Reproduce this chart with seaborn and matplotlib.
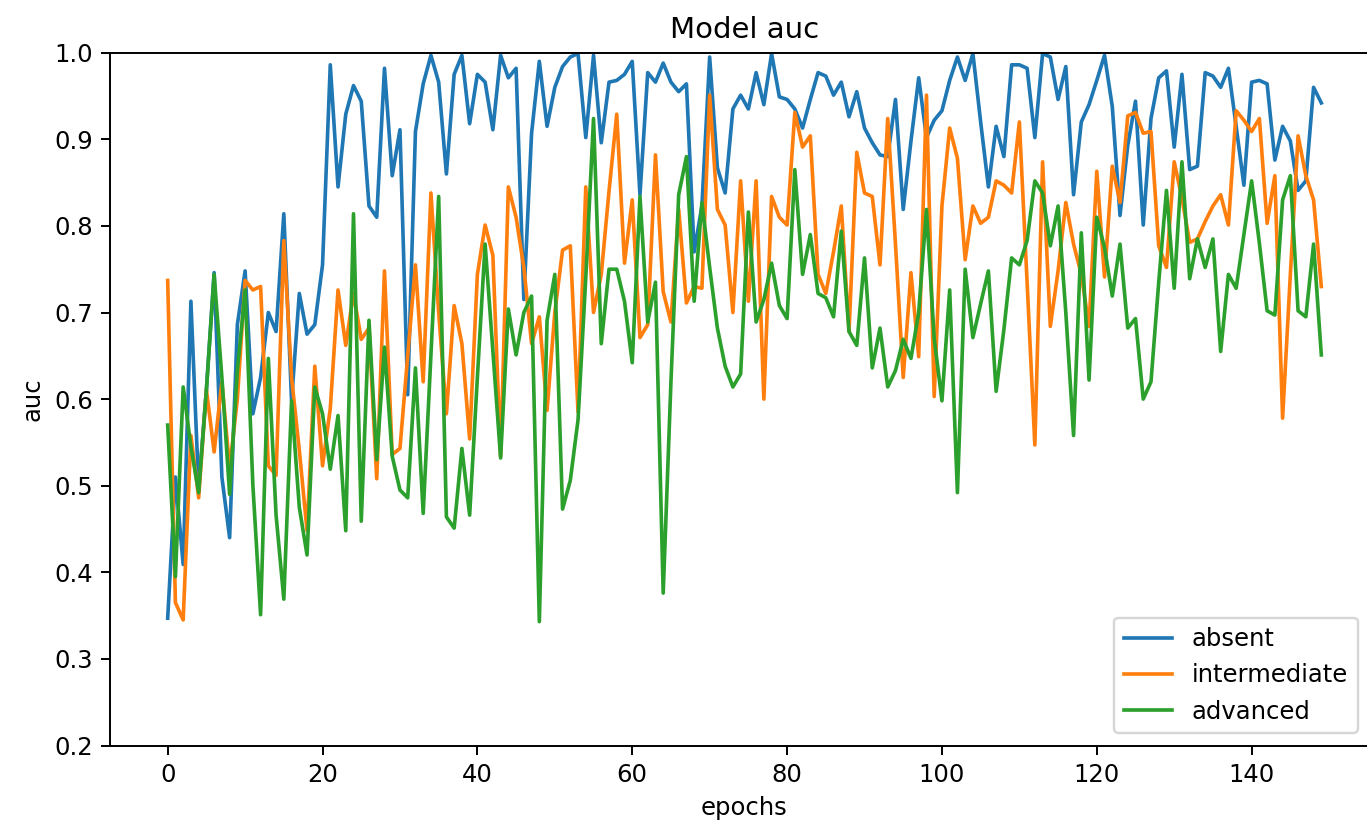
import matplotlib
matplotlib.use("Agg")
import matplotlib.pyplot as plt
import pandas as pd
import seaborn as sns

# auc per epoch
absent = [
    0.347, 0.510, 0.409, 0.713, 0.497, 0.611, 0.746, 0.510, 0.440, 0.686,
    0.748, 0.583, 0.625, 0.700, 0.678, 0.814, 0.598, 0.722, 0.675, 0.686,
    0.755, 0.986, 0.845, 0.929, 0.962, 0.944, 0.823, 0.810, 0.982, 0.858,
    0.911, 0.605, 0.909, 0.964, 0.997, 0.966, 0.860, 0.975, 0.997, 0.918,
    0.975, 0.966, 0.911, 0.997, 0.971, 0.982, 0.715, 0.907, 0.990, 0.915,
    0.960, 0.984, 0.995, 0.999, 0.902, 0.997, 0.896, 0.966, 0.968, 0.975,
    0.990, 0.836, 0.977, 0.966, 0.988, 0.966, 0.955, 0.964, 0.770, 0.823,
    0.995, 0.867, 0.838, 0.935, 0.951, 0.935, 0.977, 0.940, 0.999, 0.949,
    0.946, 0.935, 0.913, 0.946, 0.977, 0.973, 0.951, 0.966, 0.926, 0.955,
    0.913, 0.896, 0.882, 0.880, 0.946, 0.819, 0.898, 0.971, 0.902, 0.922,
    0.933, 0.968, 0.995, 0.968, 0.999, 0.920, 0.845, 0.915, 0.880, 0.986,
    0.986, 0.982, 0.902, 0.999, 0.995, 0.946, 0.984, 0.836, 0.920, 0.940,
    0.968, 0.997, 0.938, 0.812, 0.893, 0.944, 0.801, 0.924, 0.971, 0.979,
    0.891, 0.975, 0.865, 0.869, 0.977, 0.973, 0.960, 0.982, 0.915, 0.847,
    0.966, 0.968, 0.964, 0.876, 0.915, 0.898, 0.841, 0.852, 0.960, 0.942,
]
intermediate = [
    0.737, 0.365, 0.345, 0.558, 0.486, 0.611, 0.539, 0.620, 0.520, 0.600,
    0.737, 0.726, 0.730, 0.523, 0.512, 0.783, 0.625, 0.541, 0.448, 0.638,
    0.523, 0.589, 0.726, 0.662, 0.722, 0.669, 0.682, 0.508, 0.748, 0.536,
    0.543, 0.650, 0.755, 0.620, 0.838, 0.700, 0.583, 0.708, 0.664, 0.554,
    0.744, 0.801, 0.766, 0.534, 0.845, 0.810, 0.752, 0.664, 0.695, 0.587,
    0.700, 0.772, 0.777, 0.585, 0.845, 0.700, 0.744, 0.840, 0.929, 0.757,
    0.830, 0.671, 0.686, 0.882, 0.724, 0.689, 0.819, 0.711, 0.730, 0.728,
    0.951, 0.819, 0.801, 0.700, 0.852, 0.713, 0.852, 0.600, 0.834, 0.810,
    0.801, 0.931, 0.891, 0.904, 0.744, 0.722, 0.770, 0.823, 0.678, 0.885,
    0.838, 0.834, 0.755, 0.924, 0.779, 0.625, 0.746, 0.649, 0.951, 0.603,
    0.823, 0.913, 0.878, 0.761, 0.823, 0.803, 0.810, 0.852, 0.847, 0.838,
    0.920, 0.735, 0.547, 0.874, 0.684, 0.748, 0.827, 0.779, 0.744, 0.684,
    0.863, 0.741, 0.869, 0.827, 0.927, 0.931, 0.907, 0.909, 0.777, 0.752,
    0.874, 0.832, 0.781, 0.785, 0.805, 0.823, 0.836, 0.801, 0.933, 0.922,
    0.909, 0.924, 0.803, 0.858, 0.578, 0.744, 0.904, 0.858, 0.830, 0.730,
]
advanced = [
    0.570, 0.395, 0.614, 0.545, 0.492, 0.610, 0.744, 0.625, 0.490, 0.633,
    0.726, 0.501, 0.351, 0.647, 0.466, 0.369, 0.598, 0.475, 0.420, 0.614,
    0.583, 0.519, 0.581, 0.448, 0.814, 0.459, 0.691, 0.530, 0.660, 0.534,
    0.495, 0.486, 0.636, 0.468, 0.650, 0.834, 0.464, 0.451, 0.543, 0.466,
    0.625, 0.779, 0.655, 0.532, 0.704, 0.651, 0.700, 0.719, 0.343, 0.691,
    0.744, 0.473, 0.506, 0.576, 0.740, 0.924, 0.664, 0.750, 0.750, 0.713,
    0.642, 0.834, 0.689, 0.735, 0.376, 0.620, 0.836, 0.880, 0.713, 0.827,
    0.752, 0.682, 0.638, 0.614, 0.629, 0.816, 0.689, 0.715, 0.757, 0.708,
    0.693, 0.865, 0.744, 0.790, 0.722, 0.717, 0.695, 0.794, 0.678, 0.662,
    0.763, 0.636, 0.682, 0.614, 0.633, 0.669, 0.647, 0.700, 0.819, 0.670,
    0.598, 0.726, 0.492, 0.750, 0.671, 0.710, 0.748, 0.609, 0.680, 0.763,
    0.755, 0.783, 0.852, 0.838, 0.777, 0.823, 0.700, 0.558, 0.792, 0.622,
    0.810, 0.775, 0.719, 0.779, 0.682, 0.693, 0.600, 0.620, 0.735, 0.841,
    0.728, 0.874, 0.739, 0.785, 0.752, 0.785, 0.655, 0.744, 0.728, 0.790,
    0.852, 0.780, 0.702, 0.697, 0.830, 0.858, 0.702, 0.695, 0.779, 0.651,
]
epochs = list(range(len(absent)))

series = {"absent": absent, "intermediate": intermediate, "advanced": advanced}
colors = ["#1f77b4", "#ff7f0e", "#2ca02c"]

DPI = 175
W, H = 1367, 825
fig = plt.figure(figsize=(W / DPI, H / DPI), dpi=DPI)
# axes box in pixels: left 110, right 1379 (cut by the figure edge), top 53, bottom 745.5
ax = fig.add_axes([110 / W, 1 - 745.5 / H, (1379 - 110) / W, (745.5 - 52.7) / H])

for (name, values), color in zip(series.items(), colors):
    df = pd.DataFrame({"epochs": epochs, "auc": values})
    sns.lineplot(data=df, x="epochs", y="auc", ax=ax, color=color,
                 linewidth=1.5, label=name)

ax.set_ylim(0.2, 1.0)
ax.set_title("Model auc", fontsize=12)
ax.set_xlabel("epochs", fontsize=10)
ax.set_ylabel("auc", fontsize=10)
ax.tick_params(labelsize=10)
ax.legend(loc="lower right", bbox_to_anchor=((1370 - 110) / 1269, 0), fontsize=10)

fig.savefig("out.png", dpi=DPI)
plt.close(fig)
